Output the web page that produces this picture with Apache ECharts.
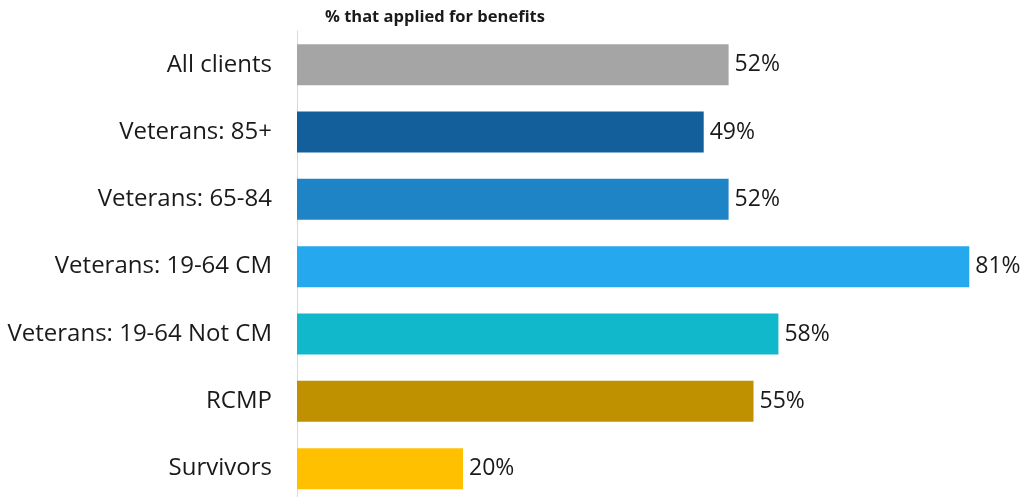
<!DOCTYPE html>
<html>
<head>
<meta charset="utf-8">
<script src="https://cdn.jsdelivr.net/npm/echarts@6/dist/echarts.min.js"></script>
<style>
  html, body { margin: 0; padding: 0; background: #fff; }
  #chart { width: 1024px; height: 497px; }
</style>
</head>
<body>
<div id="chart"></div>
<script>
// Share of each client group that applied for benefits (top to bottom)
const categories = [
  'All clients',
  'Veterans: 85+',
  'Veterans: 65-84',
  'Veterans: 19-64 CM',
  'Veterans: 19-64 Not CM',
  'RCMP',
  'Survivors'
];
const values = [52, 49, 52, 81, 58, 55, 20];
const barColors = ['#A5A5A5', '#135F9C', '#1F84C6', '#25A8EE', '#11B7CB', '#BF9000', '#FFC000'];
const chartTitle = '% that applied for benefits';

const fontFamily = '"Open Sans", Lato, sans-serif';

const chart = echarts.init(document.getElementById('chart'), null, { renderer: 'canvas' });

chart.setOption({
  animation: false,
  backgroundColor: '#ffffff',
  title: {
    text: chartTitle,
    left: 320,
    top: 4,
    textStyle: { fontFamily: fontFamily, fontSize: 16.5, fontWeight: 'bold', color: '#1a1a1a' }
  },
  grid: {
    left: 297, width: 705.5, top: 31, height: 471.3,
    containLabel: false,
    outerBoundsMode: 'none'
  },
  xAxis: {
    type: 'value',
    min: 0,
    max: 85,
    show: false
  },
  yAxis: {
    type: 'category',
    data: categories,
    inverse: true,
    axisLine: { show: true, lineStyle: { color: '#D9D9D9', width: 1 } },
    axisTick: { show: false },
    axisLabel: {
      margin: 25,
      fontFamily: fontFamily,
      fontSize: 24,
      color: '#1a1a1a'
    },
    splitLine: { show: false }
  },
  series: [{
    type: 'bar',
    barWidth: 41,
    data: values.map((v, i) => ({ value: v, itemStyle: { color: barColors[i] } })),
    label: {
      show: true,
      position: 'right',
      distance: 6,
      formatter: '{c}%',
      fontFamily: fontFamily,
      fontSize: 23,
      color: '#1a1a1a'
    }
  }]
});
</script>
</body>
</html>
